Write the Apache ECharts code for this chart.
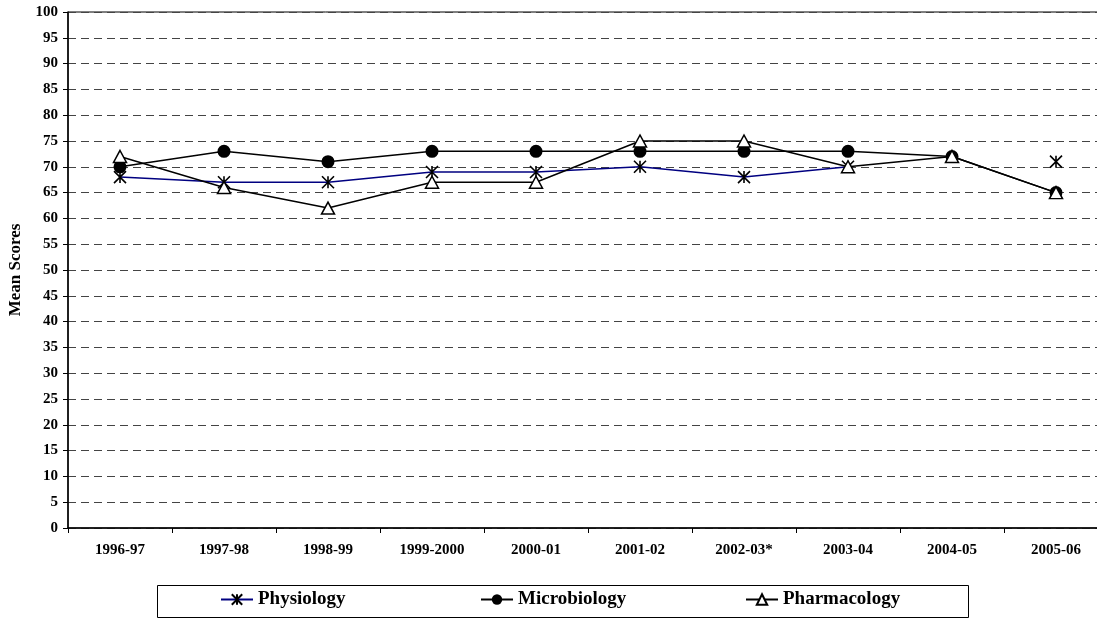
<!DOCTYPE html>
<html>
<head>
<meta charset="utf-8">
<script src="https://cdn.jsdelivr.net/npm/echarts@6/dist/echarts.min.js"></script>
<style>
  html, body { margin: 0; padding: 0; background: #fff; }
  #chart { width: 1097px; height: 621px; }
</style>
</head>
<body>
<div id="chart"></div>
<script>
// Academic years on the category axis
const years = ['1996-97', '1997-98', '1998-99', '1999-2000', '2000-01', '2001-02', '2002-03*', '2003-04', '2004-05', '2005-06'];

// Mean scores per subject (null = no score reported that year)
const physiology   = [68, 67, 67, 69, 69, 70, 68, 70, null, 71];
const microbiology = [70, 73, 71, 73, 73, 73, 73, 73, 72, 65];
const pharmacology = [72, 66, 62, 67, 67, 75, 75, 70, 72, 65];

const FONT = '"Liberation Serif", "Times New Roman", serif';
const STAR = 'path://M0,0L10,10M10,0L0,10M5,0L5,10';

const chart = echarts.init(document.getElementById('chart'), null, { renderer: 'canvas' });

function legendAt(name, left) {
  return {
    data: [name],
    left: left,
    top: 590,
    itemWidth: 32,
    itemHeight: 13,
    itemGap: 6,
    padding: 0,
    selectedMode: false,
    textStyle: { fontFamily: FONT, fontWeight: 'bold', fontSize: 19, color: '#000' }
  };
}

chart.setOption({
  animation: false,
  backgroundColor: '#fff',
  grid: {
    left: 68, top: 12, width: 1040, height: 516,
    outerBoundsMode: 'none',
    containLabel: false,
    show: true, borderColor: '#000', borderWidth: 1, backgroundColor: 'transparent'
  },
  legend: [
    legendAt('Physiology', 220),
    legendAt('Microbiology', 480),
    legendAt('Pharmacology', 745)
  ],
  graphic: [{
    type: 'rect',
    shape: { x: 157.5, y: 585.5, width: 811, height: 32 },
    style: { fill: 'none', stroke: '#000', lineWidth: 1 },
    z: -1
  }],
  xAxis: {
    type: 'category',
    data: years,
    boundaryGap: true,
    axisLine: { lineStyle: { color: '#000', width: 1.5 } },
    axisTick: { show: true, length: 5, inside: false, lineStyle: { color: '#000' } },
    axisLabel: { fontFamily: FONT, fontWeight: 'bold', fontSize: 15, color: '#000', margin: 15, interval: 0 },
    splitLine: { show: false }
  },
  yAxis: {
    type: 'value',
    min: 0, max: 100, interval: 5,
    name: 'Mean Scores',
    nameLocation: 'middle',
    nameGap: 43,
    nameRotate: 90,
    nameTextStyle: { fontFamily: FONT, fontWeight: 'bold', fontSize: 17, color: '#000' },
    axisLine: { show: true, lineStyle: { color: '#000', width: 1.5 } },
    axisTick: { show: true, length: 5, inside: false, lineStyle: { color: '#000' } },
    axisLabel: { fontFamily: FONT, fontWeight: 'bold', fontSize: 15, color: '#000', margin: 10 },
    splitLine: { show: true, lineStyle: { color: '#444', type: [8, 5], width: 1 } }
  },
  series: [
    {
      name: 'Physiology',
      type: 'line',
      data: physiology,
      connectNulls: false,
      symbol: STAR,
      symbolSize: 12,
      showAllSymbol: true,
      lineStyle: { color: '#000080', width: 1.5 },
      itemStyle: { color: '#000', borderColor: '#000', borderWidth: 1.6 },
      z: 4
    },
    {
      name: 'Microbiology',
      type: 'line',
      data: microbiology,
      symbol: 'circle',
      symbolSize: 13,
      showAllSymbol: true,
      lineStyle: { color: '#000', width: 1.5 },
      itemStyle: { color: '#000', borderColor: '#000', borderWidth: 0 },
      z: 3
    },
    {
      name: 'Pharmacology',
      type: 'line',
      data: pharmacology,
      symbol: 'triangle',
      symbolSize: [13, 12],
      showAllSymbol: true,
      lineStyle: { color: '#000', width: 1.5 },
      itemStyle: { color: '#fff', borderColor: '#000', borderWidth: 1.5 },
      z: 5
    }
  ]
});
</script>
</body>
</html>
